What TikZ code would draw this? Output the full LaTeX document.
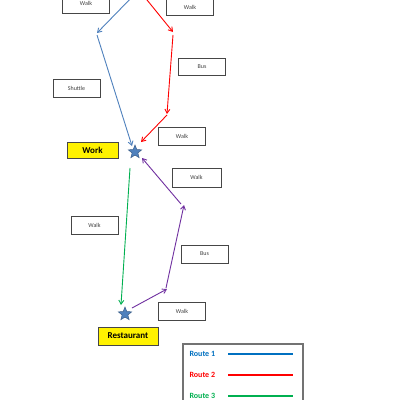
\documentclass[tikz,border=0pt]{standalone}
\usepackage{fontspec}
\setmainfont{Carlito}
\usetikzlibrary{arrows.meta,shapes.geometric}
\definecolor{rblue}{RGB}{79,129,189}
\definecolor{lblue}{RGB}{0,112,192}
\definecolor{rred}{RGB}{255,0,0}
\definecolor{rgreen}{RGB}{0,176,80}
\definecolor{rpurple}{RGB}{112,48,160}
\definecolor{starfill}{RGB}{79,129,189}
\definecolor{stardraw}{RGB}{56,93,138}
\definecolor{boxline}{RGB}{70,70,70}
\tikzset{
  lbl/.style={draw=boxline, line width=0.8pt, fill=white, minimum width=47pt, minimum height=17pt, inner sep=0pt, font=\fontsize{6}{7}\selectfont, text=black!75},
  place/.style={draw=boxline, line width=0.8pt, fill=yellow, minimum height=16pt, inner sep=0pt, font=\bfseries\fontsize{9}{10}\selectfont},
  starnode/.style={star, star points=5, star point ratio=2.3, fill=starfill, draw=stardraw, line width=0.5pt, minimum size=14pt, inner sep=0pt},
  route/.style={line width=0.9pt, -{Straight Barb[length=4pt,width=5pt]}},
  legline/.style={line width=1.5pt},
  legtxt/.style={font=\bfseries\fontsize{8}{9}\selectfont, anchor=west}
}
\begin{document}
\begin{tikzpicture}[x=1pt,y=-1pt]
\useasboundingbox (0,0) rectangle (400,400);
\clip (0,0) rectangle (400,400);
\fill[white] (0,0) rectangle (400,400);
% labels
\node[lbl, minimum height=20pt] (w1) at (86,3) {Walk};
\node[lbl] (w2) at (190,7) {Walk};
\node[lbl] (bus1) at (202,66.5) {Bus};
\node[lbl, minimum height=18pt] (sh) at (76.5,88) {Shuttle};
\node[lbl, minimum height=18pt] (w3) at (182,136) {Walk};
\node[lbl, minimum height=19pt, minimum width=49pt] (w4) at (196.5,177.5) {Walk};
\node[lbl, minimum height=18pt] (w5) at (94.5,225) {Walk};
\node[lbl, minimum height=18pt] (bus2) at (204.5,254) {Bus};
\node[lbl, minimum height=18pt] (w6) at (182,311) {Walk};
% places
\node[place, minimum width=51pt] (work) at (92.5,150) {Work};
\node[place, minimum width=60pt, minimum height=18pt] (rest) at (128,336) {Restaurant};
\node[starnode] (s1) at (135,152) {};
\node[starnode] (s2) at (125,314) {};
% route points
\coordinate (b0) at (134,-5);
\coordinate (b1) at (97,33);
\coordinate (b1s) at (97,35);
\coordinate (b2) at (132,146);
\coordinate (r0) at (143,-5);
\coordinate (r1) at (173,32);
\coordinate (r1s) at (173,35);
\coordinate (r2) at (167,114);
\coordinate (r2s) at (167,115);
\coordinate (r3) at (141,142);
\coordinate (g0) at (130,168);
\coordinate (g1) at (121,305);
\coordinate (p0) at (132,308);
\coordinate (p1) at (167,289);
\coordinate (p1s) at (166,288);
\coordinate (p2) at (184,205);
\coordinate (p2s) at (181,204);
\coordinate (p3) at (142,158);
\draw[route, rblue] (b0) -- (b1);
\draw[route, rblue] (b1s) -- (b2);
\draw[route, rred] (r0) -- (r1);
\draw[route, rred] (r1s) -- (r2);
\draw[route, rred] (r2s) -- (r3);
\draw[route, rgreen] (g0) -- (g1);
\draw[route, rpurple] (p0) -- (p1);
\draw[route, rpurple] (p1s) -- (p2);
\draw[route, rpurple] (p2s) -- (p3);
% legend
\draw[draw=black!55, line width=1.5pt, fill=white] (183,344) rectangle (303,412);
\node[legtxt, text=lblue] (l1) at (186,354) {Route 1};
\node[legtxt, text=rred] (l2) at (186,375) {Route 2};
\node[legtxt, text=rgreen] (l3) at (186,396) {Route 3};
\coordinate (l1a) at (228,354); \coordinate (l1b) at (293,354);
\coordinate (l2a) at (228,375); \coordinate (l2b) at (293,375);
\coordinate (l3a) at (228,396); \coordinate (l3b) at (293,396);
\draw[legline, lblue] (l1a) -- (l1b);
\draw[legline, rred] (l2a) -- (l2b);
\draw[legline, rgreen] (l3a) -- (l3b);
\end{tikzpicture}
\end{document}
